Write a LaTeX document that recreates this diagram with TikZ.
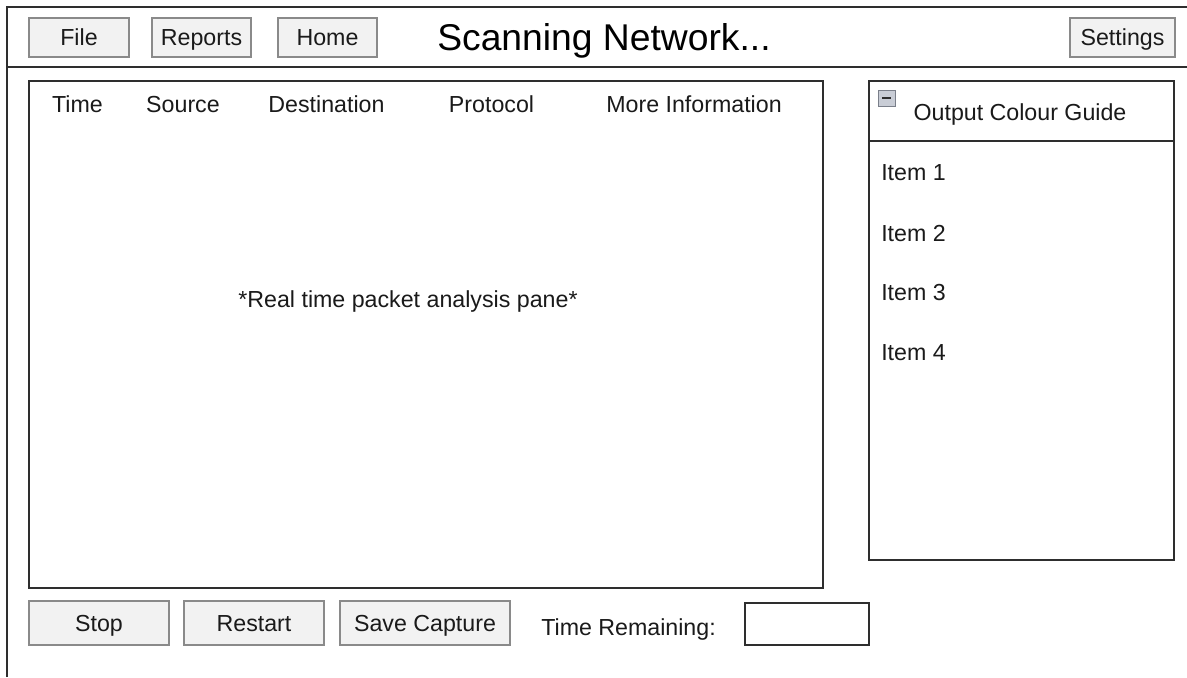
\documentclass[tikz,border=0pt]{standalone}
\usepackage{fontspec}
\setmainfont{Liberation Sans}
\usepackage{tikz}
\usetikzlibrary{positioning}
\definecolor{ink}     {HTML}{1A1A1A}
\definecolor{frame}   {HTML}{2E2E2E}
\definecolor{btnline} {HTML}{8A8A8A}
\definecolor{btnfill} {HTML}{F2F2F2}
\definecolor{iconfill}{HTML}{C9CDD6}
\definecolor{iconline}{HTML}{7A7F8A}

\tikzset{
  txt/.style={text=ink, font=\fontsize{16.5}{19}\selectfont,
    text height=11.8pt, text depth=0pt},
  btn/.style={draw=btnline, line width=1.3pt, fill=btnfill, text=ink,
    font=\fontsize{16.5}{19}\selectfont, inner sep=0pt,
    text height=11.8pt, text depth=0pt},
  pane/.style={draw=frame, line width=1.4pt, fill=white}
}

\begin{document}
\begin{tikzpicture}[x=0.025cm, y=-0.025cm]
    \useasboundingbox (0,0) rectangle (1187,677);

    % window frame
    \draw[frame, line width=1.6pt] (7,677) -- (7,7) -- (1187,7);
    \draw[frame, line width=1.6pt] (7,67) -- (1187,67);

    % top bar
    \node[btn, minimum width=2.5cm, minimum height=0.975cm] (file) at (79,37.5) {File};
    \node[btn, minimum width=2.475cm, minimum height=0.975cm] (reports) at (201.5,37.5) {Reports};
    \node[btn, minimum width=2.475cm, minimum height=0.975cm] (home) at (327.5,37.5) {Home};
    \node[btn, minimum width=2.625cm, minimum height=0.975cm] (settings) at (1122.5,37.5) {Settings};
    \node[text=black, font=\fontsize{26.5}{30}\selectfont, text height=19pt, text depth=0pt]
      (title) at (604,37) {Scanning Network...};

    % packet pane
    \draw[pane] (29,81) rectangle (823,588);
    \node[txt] (coltime) at (77.5,104) {Time};
    \node[txt] (colsrc)  at (183,104) {Source};
    \node[txt] (coldst)  at (326.5,104) {Destination};
    \node[txt] (colproto) at (491.5,104) {Protocol};
    \node[txt] (colinfo) at (694,104) {More Information};
    \node[txt] (panenote) at (408,299) {*Real time packet analysis pane*};

    % colour guide
    \draw[pane] (869,81) rectangle (1174,560);
    \draw[frame, line width=1.4pt] (869,141) -- (1174,141);
    \draw[iconline, fill=iconfill, line width=0.6pt] (878,90) rectangle (895,106);
    \draw[frame, line width=1.6pt] (882,98) -- (891,98);
    \node[txt] (guide) at (1020,112) {Output Colour Guide};
    \foreach \y [count=\i] in {172,233,292,352}
      \node[txt, anchor=west, inner sep=0pt] (item\i) at (881,\y) {Item \i};

    % bottom bar
    \node[btn, minimum width=3.5cm, minimum height=1.1cm] (stop) at (99,623) {Stop};
    \node[btn, minimum width=3.5cm, minimum height=1.1cm] (restart) at (254,623) {Restart};
    \node[btn, minimum width=4.25cm, minimum height=1.1cm] (save) at (425,623) {Save Capture};
    \node[txt, anchor=west, inner sep=0pt] (remain) at (541,627) {Time Remaining:};
    \node[pane, minimum width=3.1cm, minimum height=1.05cm, inner sep=0pt] (timer) at (807,624) {};
  \end{tikzpicture}
\end{document}
